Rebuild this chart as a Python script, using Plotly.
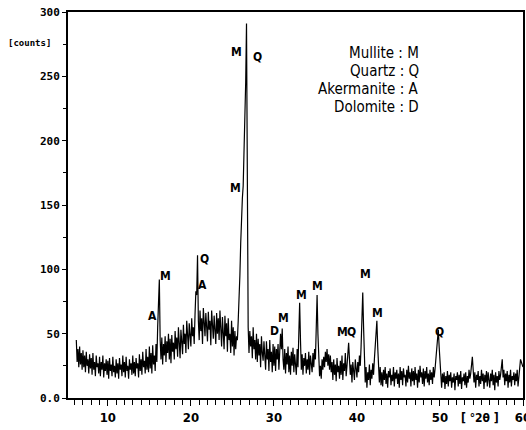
import plotly.graph_objects as go
import numpy as np

# XRD pattern, sampled every 0.1 deg 2theta starting at 6.2
two_theta_start = 6.2
two_theta_step = 0.1
counts = [
    45, 28, 38, 24, 40, 26, 35, 22,
    37, 24, 33, 20, 36, 25, 30, 19, 34, 23,
    31, 18, 35, 22, 28, 17, 33, 24, 27, 19,
    32, 17, 28, 22, 33, 16, 27, 21, 30, 18,
    29, 15, 31, 21, 26, 17, 32, 20, 25, 16,
    30, 19, 27, 15, 31, 22, 26, 17, 33, 20,
    28, 16, 32, 21, 25, 15, 30, 22, 27, 18,
    33, 19, 28, 17, 31, 23, 27, 16, 34, 21,
    30, 18, 36, 24, 29, 19, 38, 22, 32, 20,
    40, 23, 35, 19, 41, 26, 33, 21, 42, 28,
    55, 70, 92, 45, 30, 47, 26, 42, 33, 48,
    28, 44, 35, 50, 30, 46, 27, 49, 36, 43,
    30, 52, 38, 47, 32, 55, 40, 31, 53, 44,
    34, 57, 42, 50, 35, 60, 45, 38, 58, 47,
    40, 62, 48, 55, 42, 65, 83, 80, 111, 60,
    45, 68, 52, 62, 42, 70, 55, 48, 66, 58,
    44, 67, 53, 60, 41, 68, 57, 46, 64, 55,
    42, 66, 50, 62, 45, 68, 54, 40, 63, 52,
    38, 64, 48, 58, 36, 62, 45, 50, 35, 60,
    40, 55, 33, 52, 38, 48, 45, 60, 75, 95,
    120, 145, 155, 165, 190, 210, 245, 291, 150, 55,
    35, 52, 40, 48, 31, 55, 38, 45, 30, 50,
    28, 46, 33, 42, 24, 48, 35, 29, 44, 31,
    22, 44, 30, 38, 21, 45, 28, 36, 20, 42,
    25, 40, 21, 38, 30, 42, 22, 36, 50, 38,
    54, 30, 22, 38, 19, 35, 26, 40, 20, 33,
    18, 36, 25, 39, 20, 34, 27, 18, 38, 24,
    50, 74, 45, 22, 34, 18, 31, 25, 35, 19,
    30, 22, 36, 18, 33, 26, 20, 35, 24, 38,
    30, 55, 80, 50, 28, 17, 25, 15, 30, 22,
    32, 24, 36, 28, 38, 25, 34, 22, 33, 20,
    28, 14, 30, 18, 26, 13, 31, 20, 25, 15,
    29, 18, 33, 14, 27, 21, 35, 17, 25, 35,
    43, 30, 18, 26, 12, 28, 20, 14, 30, 22,
    16, 28, 20, 33, 25, 40, 60, 82, 55, 28,
    12, 24, 8, 20, 14, 26, 10, 22, 15, 27,
    18, 30, 40, 50, 60, 40, 20, 12, 24, 10,
    20, 9, 22, 14, 24, 11, 19, 8, 21, 16,
    23, 10, 18, 13, 24, 9, 20, 15, 22, 11,
    19, 8, 24, 14, 21, 10, 23, 16, 18, 9,
    22, 12, 25, 15, 20, 9, 23, 13, 21, 10,
    24, 14, 19, 8, 22, 12, 25, 16, 20, 11,
    23, 9, 21, 15, 24, 12, 19, 10, 22, 14,
    20, 11, 24, 16, 22, 30, 35, 45, 53, 40,
    30, 18, 8, 19, 12, 20, 7, 17, 11, 21,
    9, 18, 13, 20, 8, 16, 12, 19, 6, 17,
    14, 20, 9, 18, 11, 21, 7, 16, 13, 19,
    10, 20, 8, 17, 12, 22, 15, 19, 25, 32,
    22, 12, 20, 8, 18, 14, 21, 9, 17, 11,
    22, 13, 19, 7, 18, 12, 21, 9, 20, 14,
    8, 19, 13, 22, 10, 18, 6, 20, 12, 17,
    9, 21, 14, 18, 25, 30, 16, 22, 10, 19,
    13, 21, 8, 18, 12, 22, 9, 17, 14, 20,
    10, 19, 13, 22, 9, 18, 25, 30, 28, 26,
    24,
]
two_theta = two_theta_start + two_theta_step * np.arange(len(counts))

# peak labels
peak_x = [15.4, 17.0, 21.6, 21.4, 25.4, 25.5, 28.0, 30.1, 31.2, 33.3, 35.3, 38.2, 39.4, 41.0, 42.5, 49.9]
peak_y = [64, 95, 108, 88, 163, 269, 265, 52, 62, 80, 87, 51, 51, 96, 66, 51]
peak_lbl = ["A", "M", "Q", "A", "M", "M", "Q", "D", "M", "M", "M", "M", "Q", "M", "M", "Q"]

legend_lines = ["Mullite : M", "Quartz : Q", "Akermanite : A", "Dolomite : D"]

y_tickvals = [0, 50, 100, 150, 200, 250, 300]
y_ticktext = ["0.0", "50", "100", "150", "200", "250", "300"]
x_tickvals = [10, 20, 30, 40, 50, 60]

fig = go.Figure()
fig.add_trace(go.Scatter(x=two_theta, y=counts, mode="lines",
                         line=dict(color="black", width=1.2), showlegend=False,
                         hoverinfo="skip"))

narrow = "Liberation Sans Narrow, DejaVu Sans Condensed, Liberation Sans, sans-serif"
mono = "DejaVu Sans Mono, Liberation Mono, monospace"

annotations = []
for x, y, t in zip(peak_x, peak_y, peak_lbl):
    annotations.append(dict(x=x, y=y, xref="x", yref="y", text=t, showarrow=False,
                            xanchor="center", yanchor="middle",
                            font=dict(family=narrow, size=12, color="black", weight="bold")))

leg_y = [0.894, 0.847, 0.8005, 0.754]
for t, yy in zip(legend_lines, leg_y):
    annotations.append(dict(x=0.776, y=yy, xref="paper", yref="paper", text=t,
                            showarrow=False, xanchor="right", yanchor="middle",
                            font=dict(family=narrow, size=15, color="black")))

annotations.append(dict(x=-0.084, y=0.92, xref="paper", yref="paper", text="[counts]",
                        showarrow=False, xanchor="center", yanchor="middle",
                        font=dict(family=mono, size=9, color="black", weight="bold")))
annotations.append(dict(x=0.905, y=-0.052, xref="paper", yref="paper", text="[ °2θ ]",
                        showarrow=False, xanchor="center", yanchor="middle",
                        font=dict(family=narrow, size=12, color="black", weight="bold")))

fig.update_layout(
    width=526, height=430,
    margin=dict(l=68, r=3, t=12, b=32, autoexpand=False),
    paper_bgcolor="white", plot_bgcolor="white",
    annotations=annotations,
    xaxis=dict(range=[5.2, 60], tickvals=x_tickvals, ticks="outside", ticklen=6,
               tickwidth=1, tickcolor="black", showgrid=False, zeroline=False,
               showline=True, linecolor="black", linewidth=2, mirror=True, automargin=False,
               ticklabeloverflow="allow",
               minor=dict(dtick=1, ticks="outside", ticklen=5, tickcolor="black", showgrid=False),
               tickfont=dict(family=narrow, size=13, color="black", weight="bold")),
    yaxis=dict(range=[0, 300], tickvals=y_tickvals, ticktext=y_ticktext, ticks="outside",
               ticklen=4, tickwidth=1, tickcolor="black", showgrid=False, zeroline=False,
               showline=True, linecolor="black", linewidth=2, mirror=True, automargin=False,
               ticklabeloverflow="allow",
               minor=dict(tickvals=[25, 75, 125, 175, 225, 275], ticks="outside", ticklen=3,
                          tickcolor="black", showgrid=False),
               tickfont=dict(family=mono, size=11, color="black", weight="bold")),
)

fig.write_html("out.html", config={"displayModeBar": False},
               post_script="document.body.style.margin='0';document.body.style.overflow='hidden';")
